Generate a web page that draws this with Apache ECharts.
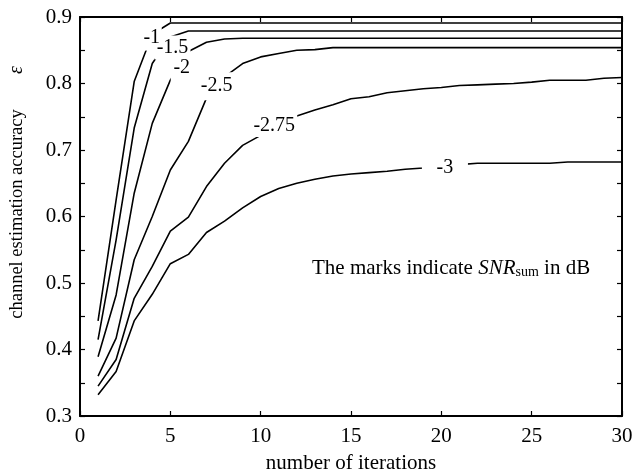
<!DOCTYPE html>
<html>
<head>
<meta charset="utf-8">
<script src="https://cdn.jsdelivr.net/npm/echarts@6/dist/echarts.min.js"></script>
<style>
  html, body { margin: 0; padding: 0; background: #fff; }
  #chart { width: 639px; height: 472px; }
</style>
</head>
<body>
<div id="chart"></div>
<script>
// Iteration index shared by every curve
const iterations = [1,2,3,4,5,6,7,8,9,10,11,12,13,14,15,16,17,18,19,20,21,22,23,24,25,26,27,28,29,30];

// SNR_sum (dB) of each curve, used as the curve labels
const snrNames = ['-1', '-1.5', '-2', '-2.5', '-2.75', '-3'];

// Channel estimation accuracy per iteration, one array per SNR_sum
const accSnrM1 = [0.443,0.625,0.803,0.874,0.891,0.891,0.891,0.891,0.891,0.891,0.891,0.891,0.891,0.891,0.891,0.891,0.891,0.891,0.891,0.891,0.891,0.891,0.891,0.891,0.891,0.891,0.891,0.891,0.891,0.891];
const accSnrM1_5 = [0.415,0.565,0.733,0.830,0.870,0.879,0.879,0.879,0.879,0.879,0.879,0.879,0.879,0.879,0.879,0.879,0.879,0.879,0.879,0.879,0.879,0.879,0.879,0.879,0.879,0.879,0.879,0.879,0.879,0.879];
const accSnrM2 = [0.389,0.482,0.635,0.740,0.805,0.848,0.862,0.867,0.868,0.868,0.868,0.868,0.868,0.868,0.868,0.868,0.868,0.868,0.868,0.868,0.868,0.868,0.868,0.868,0.868,0.868,0.868,0.868,0.868,0.868];
const accSnrM2_5 = [0.360,0.417,0.535,0.600,0.670,0.713,0.778,0.810,0.830,0.840,0.845,0.850,0.851,0.854,0.854,0.854,0.854,0.854,0.854,0.854,0.854,0.854,0.854,0.854,0.854,0.854,0.854,0.854,0.854,0.854];
const accSnrM2_75 = [0.345,0.385,0.477,0.525,0.578,0.599,0.645,0.680,0.707,0.722,0.737,0.751,0.760,0.768,0.777,0.780,0.786,0.789,0.792,0.794,0.797,0.798,0.799,0.800,0.802,0.805,0.805,0.805,0.808,0.809];
const accSnrM3 = [0.332,0.367,0.443,0.483,0.529,0.543,0.576,0.593,0.613,0.630,0.642,0.650,0.656,0.661,0.664,0.666,0.668,0.671,0.673,0.676,0.678,0.680,0.680,0.680,0.680,0.680,0.682,0.682,0.682,0.682];

// Axis ranges and tick steps
const xRange = [0, 30], xStep = 5;
const yRange = [0.3, 0.9], yStep = 0.1;

const curves = [accSnrM1, accSnrM1_5, accSnrM2, accSnrM2_5, accSnrM2_75, accSnrM3];

// Where each in-line contour label sits (data coords) and the size of the gap it cuts
const labelSpots = [[3.97, 0.869], [5.12, 0.854], [5.63, 0.823], [7.56, 0.796], [10.75, 0.736], [20.2, 0.674]];
const labelGaps = [[20, 26], [36, 24], [22, 30], [36, 28], [46, 22], [46, 22]];

const SERIF = '"Liberation Serif", "Times New Roman", serif';
const black = '#000';

const chart = echarts.init(document.getElementById('chart'), null, { renderer: 'canvas' });

const baseTick = { show: true, inside: true, length: 5, lineStyle: { color: black, width: 1.2 } };
const axisLine = { show: true, onZero: false, lineStyle: { color: black, width: 2 } };

const series = curves.map((vals, i) => ({
  name: snrNames[i],
  type: 'line',
  symbol: 'none',
  animation: false,
  lineStyle: { color: black, width: 1.6 },
  data: iterations.map((it, k) => [it, vals[k]]),
  markPoint: {
    symbol: 'rect',
    symbolSize: labelGaps[i],
    itemStyle: { color: '#fff' },
    label: {
      show: true,
      position: 'inside',
      color: black,
      fontFamily: SERIF,
      fontSize: 20,
      formatter: () => snrNames[i]
    },
    data: [{ coord: labelSpots[i] }]
  }
}));

chart.setOption({
  animation: false,
  backgroundColor: '#fff',
  grid: { left: 80, top: 17, width: 542, height: 399, containLabel: false, outerBoundsMode: 'none' },
  xAxis: [
    {
      type: 'value', min: xRange[0], max: xRange[1], interval: xStep,
      axisLine, axisTick: baseTick,
      axisLabel: { color: black, fontFamily: SERIF, fontSize: 21, margin: 10 },
      splitLine: { show: false },
      name: 'number of iterations', nameLocation: 'middle', nameGap: 37,
      nameTextStyle: { color: black, fontFamily: SERIF, fontSize: 21 }
    },
    {
      type: 'value', position: 'top', min: xRange[0], max: xRange[1], interval: xStep,
      axisLine, axisTick: baseTick, axisLabel: { show: false }, splitLine: { show: false }
    }
  ],
  yAxis: [
    {
      type: 'value', min: yRange[0], max: yRange[1], interval: yStep,
      axisLine, axisTick: baseTick,
      minorTick: { show: true, splitNumber: 2, length: 5, lineStyle: { color: black, width: 1.2 } },
      axisLabel: { color: black, fontFamily: SERIF, fontSize: 21, margin: 8, formatter: v => v.toFixed(1) },
      splitLine: { show: false }
    },
    {
      type: 'value', position: 'right', min: yRange[0], max: yRange[1], interval: yStep,
      axisLine, axisTick: baseTick,
      minorTick: { show: true, splitNumber: 2, length: 5, lineStyle: { color: black, width: 1.2 } },
      axisLabel: { show: false }, splitLine: { show: false }
    }
  ],
  series,
  graphic: [
    {
      // y-axis title, written bottom-to-top
      type: 'text',
      x: 17, y: 214, rotation: Math.PI / 2,
      style: {
        text: 'channel estimation accuracy',
        fill: black, fontFamily: SERIF, fontSize: 18.5,
        align: 'center', verticalAlign: 'middle'
      }
    },
    {
      // the accuracy symbol placed above the y-axis title
      type: 'text',
      x: 17, y: 70, rotation: Math.PI / 2,
      style: {
        text: 'ε',
        fill: black, fontFamily: SERIF, fontSize: 20, fontStyle: 'italic',
        align: 'center', verticalAlign: 'middle'
      }
    },
    {
      type: 'text',
      x: 312, y: 268,
      style: {
        text: 'The marks indicate {i|SNR}{s|sum} in dB',
        fill: black, fontFamily: SERIF, fontSize: 21,
        align: 'left', verticalAlign: 'middle',
        rich: {
          i: { fontFamily: SERIF, fontSize: 21, fontStyle: 'italic', fill: black },
          s: { fontFamily: SERIF, fontSize: 14, fill: black, padding: [9, 0, 0, 0] }
        }
      }
    }
  ]
});
</script>
</body>
</html>
